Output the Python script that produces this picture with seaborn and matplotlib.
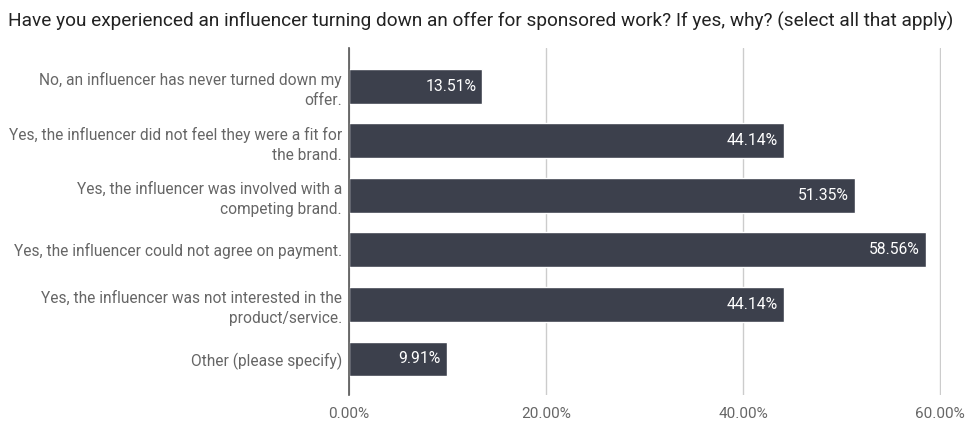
import matplotlib
matplotlib.use("Agg")
import matplotlib.pyplot as plt
import seaborn as sns
import pandas as pd
from matplotlib.ticker import FuncFormatter

title = ("Have you experienced an influencer turning down an offer for sponsored work? "
         "If yes, why? (select all that apply)")
categories = [
    "No, an influencer has never turned down my\noffer.",
    "Yes, the influencer did not feel they were a fit for\nthe brand.",
    "Yes, the influencer was involved with a\ncompeting brand.",
    "Yes, the influencer could not agree on payment.",
    "Yes, the influencer was not interested in the\nproduct/service.",
    "Other (please specify)",
]
values = [13.51, 44.14, 51.35, 58.56, 44.14, 9.91]
x_ticks = [0, 20, 40, 60]

sns.set_theme(style="white")
plt.rcParams["font.family"] = ["Roboto", "DejaVu Sans"]

df = pd.DataFrame({"reason": categories, "pct": values})

fig = plt.figure(figsize=(9.66, 4.21), dpi=100)
ax = fig.add_axes([349 / 966, 1 - 395 / 421, (941 - 349) / 966, (395 - 48) / 421])

bar_color = "#3c404c"
sns.barplot(data=df, y="reason", x="pct", orient="h", color=bar_color,
            width=0.64, saturation=1, ax=ax, zorder=3)

ax.set_xlim(0, 60.1)
ax.set_ylim(5.66, -0.70)
ax.set_xticks(x_ticks)
ax.xaxis.set_major_formatter(FuncFormatter(lambda v, _: f"{v:.2f}%"))
ax.grid(axis="x", color="#cccccc", linewidth=1, zorder=0)
ax.grid(axis="y", visible=False)
for s in ["top", "right", "bottom"]:
    ax.spines[s].set_visible(False)
ax.spines["left"].set_color("#555555")
ax.spines["left"].set_linewidth(1.2)
ax.spines["left"].set_zorder(4)
ax.set_xlabel("")
ax.set_ylabel("")
ax.tick_params(axis="x", length=0, pad=9, labelsize=11, labelcolor="#666666")
ax.tick_params(axis="y", length=0, pad=5, labelsize=11.2, labelcolor="#666666")
for lbl in ax.get_yticklabels():
    lbl.set_horizontalalignment("right")
    lbl.set_multialignment("right")
    lbl.set_linespacing(1.42)

for i, v in enumerate(values):
    ax.text(v - 0.6, i, f"{v:.2f}%", ha="right", va="center",
            color="white", fontsize=11.3, zorder=5)

fig.text(8 / 966, 1 - 21 / 421, title, ha="left", va="center",
         fontsize=13.65, color="#222222")

fig.savefig("out.png", dpi=100)
